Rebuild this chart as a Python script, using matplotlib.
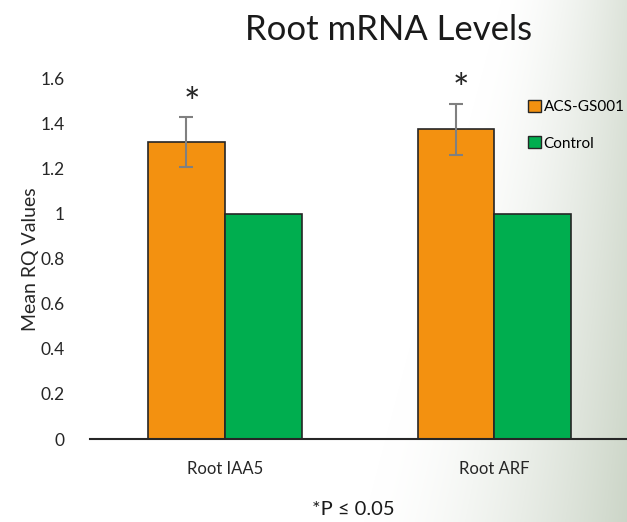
import numpy as np
import matplotlib
matplotlib.use("Agg")
import matplotlib.pyplot as plt
from matplotlib.patches import Patch

categories = ["Root IAA5", "Root ARF"]
series_names = ["ACS-GS001", "Control"]
acs_values = [1.32, 1.375]
acs_errors = [0.11, 0.115]
control_values = [1.0, 1.0]
yticks = [0, 0.2, 0.4, 0.6, 0.8, 1, 1.2, 1.4, 1.6]
ytick_labels = ["0", "0.2", "0.4", "0.6", "0.8", "1", "1.2", "1.4", "1.6"]
significant = [True, True]

plt.rcParams['font.family'] = ['Lato', 'DejaVu Sans']

fig = plt.figure(figsize=(6.27, 5.22), dpi=100)

# subtle background (leafy blur on right side)
bg = fig.add_axes([0, 0, 1, 1], zorder=-10)
W, H = 627, 522
xx = np.linspace(0, 1, W)[None, :]
yy = np.linspace(0, 1, H)[:, None]  # 0 top, 1 bottom
start = 0.80 - 0.22 * yy
a = np.clip((xx - start) / (1.0 - start), 0, 1) ** 1.6 * (0.6 + 0.3 * yy)
img = np.ones((H, W, 3))
tint = np.array([0.78, 0.82, 0.76])
img = img * (1 - a[..., None]) + tint * a[..., None]
bg.imshow(img, aspect='auto', extent=[0, 1, 0, 1])
bg.axis('off')

ax = fig.add_axes([0.1435, 0.159, 0.86, 0.69])
ax.patch.set_alpha(0)
x = np.arange(len(categories))
w = 0.285
c_orange = "#F39110"
c_green = "#00AE4F"
ax.bar(x - w / 2, acs_values, w, color=c_orange, edgecolor="#262626", linewidth=1.2, zorder=2)
ax.bar(x + w / 2, control_values, w, color=c_green, edgecolor="#262626", linewidth=1.2, zorder=2)
ax.errorbar(x - w / 2, acs_values, yerr=acs_errors, fmt='none', ecolor="#808080",
            elinewidth=1.5, capsize=5, capthick=1.5, zorder=3)
for i, s in enumerate(significant):
    if s:
        ax.text(x[i] - w / 2 + 0.02, acs_values[i] + acs_errors[i] + 0.055, "*",
                ha='center', va='center', fontsize=28, color="#262626")

ax.set_xlim(-0.5, 1.5)
ax.set_ylim(0, 1.6)
ax.set_yticks(yticks)
ax.set_yticklabels(ytick_labels)
ax.set_xticks(x)
ax.set_xticklabels(categories)
ax.tick_params(axis='both', length=0, labelsize=12.5, colors="#262626")
ax.tick_params(axis='x', labelsize=12, pad=16)
ax.tick_params(axis='y', pad=18)
for sp in ['top', 'right', 'left']:
    ax.spines[sp].set_visible(False)
ax.spines['bottom'].set_color("#262626")
ax.spines['bottom'].set_linewidth(1.5)
ax.set_ylabel("Mean RQ Values", fontsize=14, color="#262626", labelpad=1)

handles = [Patch(facecolor=c_orange, edgecolor="#262626"), Patch(facecolor=c_green, edgecolor="#262626")]
fig.legend(handles, series_names, loc='upper left', bbox_to_anchor=(0.833, 0.82),
           frameon=False, fontsize=11, handlelength=0.8, handleheight=0.8,
           handletextpad=0.2, labelspacing=1.45, borderaxespad=0)

fig.text(0.62, 0.942, "Root mRNA Levels", ha='center', va='center', fontsize=25, color="#1a1a1a")
fig.text(0.563, 0.024, "*P ≤ 0.05", ha='center', va='center', fontsize=14.5, color="#1a1a1a")

fig.savefig("out.png", dpi=100)
